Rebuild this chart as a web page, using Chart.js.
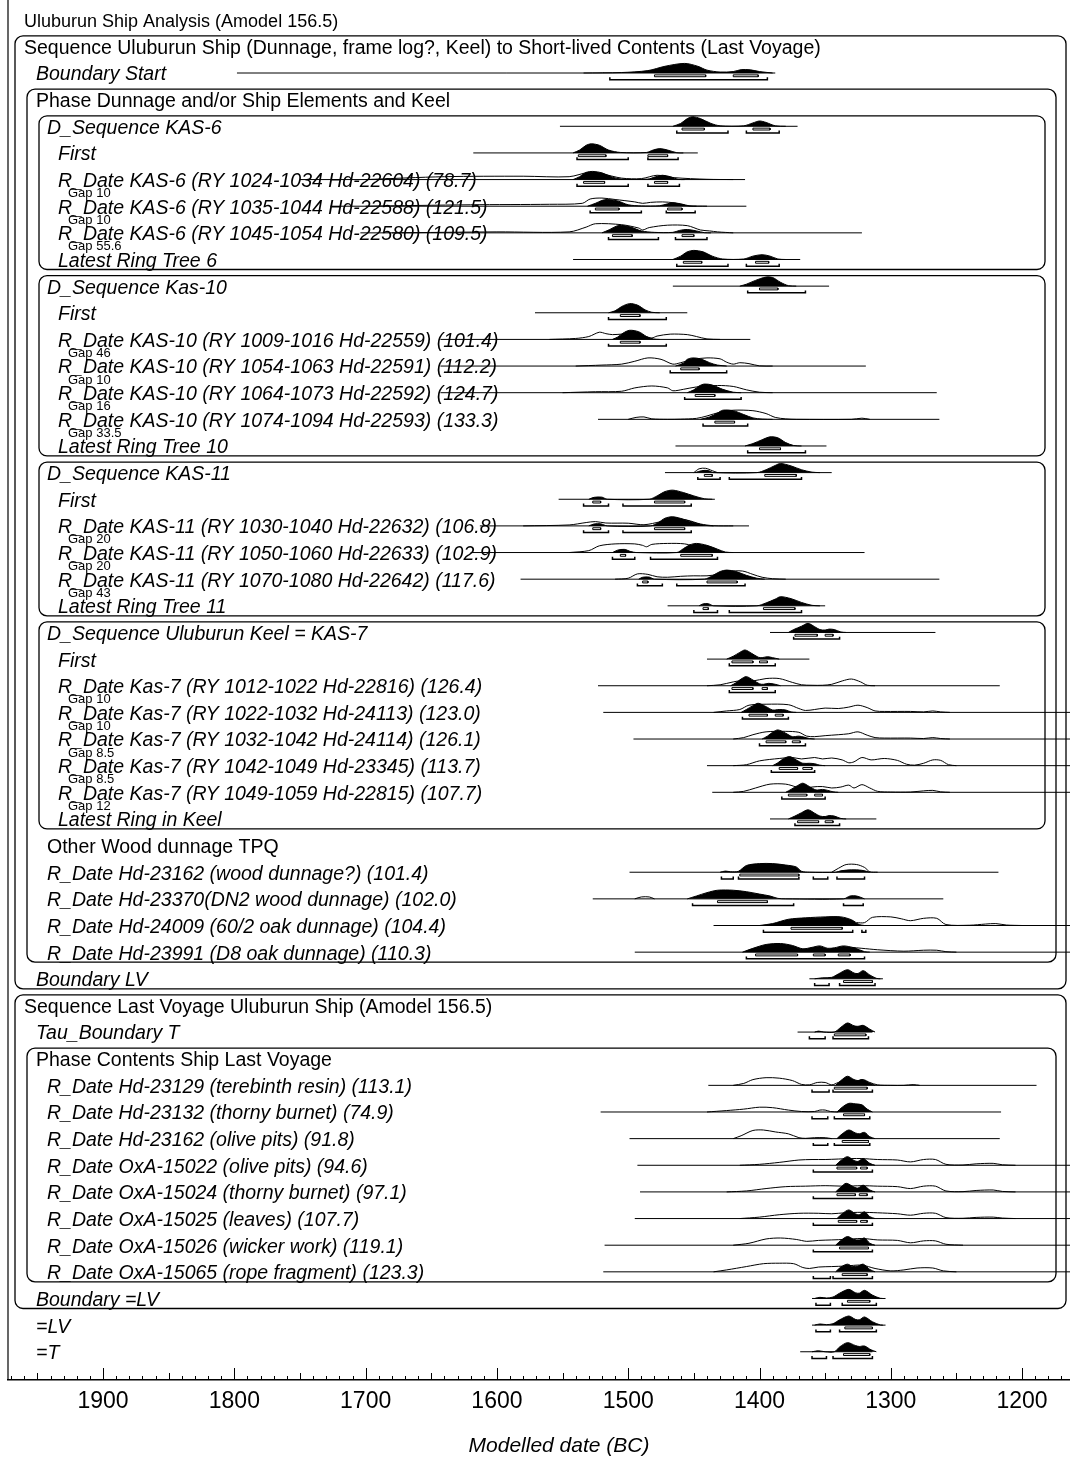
<!DOCTYPE html>
<html>
<head>
<meta charset="utf-8">
<title>Uluburun Ship Analysis</title>
<script src="https://cdn.jsdelivr.net/npm/chart.js@4.4.1/dist/chart.umd.min.js"></script>
<style>
body{margin:0;background:#fff}
canvas{display:block}
</style>
</head>
<body>
<canvas id="chart1" width="1070" height="1458"></canvas>
<script>
// row labels, top to bottom (row index = y value)
const rowNames = [
  'Uluburun Ship Analysis (Amodel 156.5)',
  'Sequence Uluburun Ship (Dunnage, frame log?, Keel) to Short-lived Contents (Last Voyage)',
  'Boundary Start',
  'Phase Dunnage and/or Ship Elements and Keel',
  'D_Sequence KAS-6',
  'First',
  'R_Date KAS-6 (RY 1024-1034 Hd-22604) (78.7)',
  'R_Date KAS-6 (RY 1035-1044 Hd-22588) (121.5)',
  'R_Date KAS-6 (RY 1045-1054 Hd-22580) (109.5)',
  'Latest Ring Tree 6',
  'D_Sequence Kas-10',
  'First',
  'R_Date KAS-10 (RY 1009-1016 Hd-22559) (101.4)',
  'R_Date KAS-10 (RY 1054-1063 Hd-22591) (112.2)',
  'R_Date KAS-10 (RY 1064-1073 Hd-22592) (124.7)',
  'R_Date KAS-10 (RY 1074-1094 Hd-22593) (133.3)',
  'Latest Ring Tree 10',
  'D_Sequence KAS-11',
  'First',
  'R_Date KAS-11 (RY 1030-1040 Hd-22632) (106.8)',
  'R_Date KAS-11 (RY 1050-1060 Hd-22633) (102.9)',
  'R_Date KAS-11 (RY 1070-1080 Hd-22642) (117.6)',
  'Latest Ring Tree 11',
  'D_Sequence Uluburun Keel = KAS-7',
  'First',
  'R_Date Kas-7 (RY 1012-1022 Hd-22816) (126.4)',
  'R_Date Kas-7 (RY 1022-1032 Hd-24113) (123.0)',
  'R_Date Kas-7 (RY 1032-1042 Hd-24114) (126.1)',
  'R_Date Kas-7 (RY 1042-1049 Hd-23345) (113.7)',
  'R_Date Kas-7 (RY 1049-1059 Hd-22815) (107.7)',
  'Latest Ring in Keel',
  'Other Wood dunnage TPQ',
  'R_Date Hd-23162 (wood dunnage?) (101.4)',
  'R_Date Hd-23370(DN2 wood dunnage) (102.0)',
  'R_Date Hd-24009 (60/2 oak dunnage) (104.4)',
  'R_Date Hd-23991 (D8 oak dunnage) (110.3)',
  'Boundary LV',
  'Sequence Last Voyage Uluburun Ship (Amodel 156.5)',
  'Tau_Boundary T',
  'Phase Contents Ship Last Voyage',
  'R_Date Hd-23129 (terebinth resin) (113.1)',
  'R_Date Hd-23132 (thorny burnet) (74.9)',
  'R_Date Hd-23162 (olive pits) (91.8)',
  'R_Date OxA-15022 (olive pits) (94.6)',
  'R_Date OxA-15024 (thorny burnet) (97.1)',
  'R_Date OxA-15025 (leaves) (107.7)',
  'R_Date OxA-15026 (wicker work) (119.1)',
  'R_Date OxA-15065 (rope fragment) (123.3)',
  'Boundary =LV',
  '=LV',
  '=T'
]
const uprightRows = [0, 1, 3, 31, 37, 39]
const rowIndent = [0,0,1,1,2,3,3,3,3,3, 2,3,3,3,3,3,3, 2,3,3,3,3,3, 2,3,3,3,3,3,3,3,
                   2,2,2,2,2, 1,0,1,1, 2,2,2,2,2,2,2,2, 1,1,1]

// [first row, last row, nesting level]
const groups = [[1,36,0],[3,35,1],[4,9,2],[10,16,2],[17,22,2],[23,30,2],[37,48,0],[39,47,1]]

const gapLabels = [[6,'Gap 10'],[7,'Gap 10'],[8,'Gap 55.6'],
  [12,'Gap 46'],[13,'Gap 10'],[14,'Gap 16'],[15,'Gap 33.5'],
  [19,'Gap 20'],[20,'Gap 20'],[21,'Gap 43'],
  [25,'Gap 10'],[26,'Gap 10'],[27,'Gap 8.5'],[28,'Gap 8.5'],[29,'Gap 12']]

const tickYears = [1900, 1800, 1700, 1600, 1500, 1400, 1300, 1200]

// extent of each row's line, years BC (old, young)
const lineSpan = {
  2:[1798,1388], 4:[1552,1371], 5:[1618,1447], 6:[1750,1411], 7:[1727,1410], 8:[1704,1322], 9:[1542,1369],
  10:[1466,1347], 11:[1571,1455], 12:[1643,1407], 13:[1643,1319], 14:[1643,1265], 15:[1523,1263], 16:[1464,1349],
  17:[1472,1345], 18:[1553,1434], 19:[1613,1408], 20:[1620,1320], 21:[1582,1263], 22:[1470,1350],
  23:[1392,1266], 24:[1440,1362], 25:[1523,1217], 26:[1519,1150], 27:[1496,1150], 28:[1440,1150], 29:[1436,1150], 30:[1392,1311],
  32:[1499,1218], 33:[1527,1260], 34:[1435,1150], 35:[1495,1150], 36:[1362,1306],
  38:[1371,1314], 40:[1439,1189], 41:[1521,1216], 42:[1499,1217], 43:[1493,1150], 44:[1491,1150],
  45:[1495,1150], 46:[1518,1150], 47:[1519,1150], 48:[1360,1306], 49:[1360,1306], 50:[1369,1314]
}

// modelled (posterior) distributions: [year BC, relative height]
const posterior = {
  2:[[1534,0],[1505,0.05],[1485,0.25],[1472,0.7],[1457,1],[1447,0.7],[1440,0.3],[1430,0.1],[1420,0.15],[1414,0.35],[1407,0.33],[1400,0.15],[1390,0]],
  4:[[1466,0],[1460,0.3],[1455,0.8],[1451,1],[1445,0.8],[1437,0.3],[1430,0.05],[1412,0.05],[1405,0.35],[1400,0.55],[1395,0.4],[1388,0.05],[1380,0]],
  5:[[1542,0],[1537,0.3],[1532,0.8],[1528,0.95],[1522,0.8],[1515,0.3],[1506,0.05],[1486,0.05],[1481,0.3],[1476,0.45],[1470,0.3],[1463,0.02],[1458,0]],
  6:[[1542,0],[1537,0.3],[1532,0.75],[1527,0.85],[1520,0.7],[1512,0.25],[1505,0.05],[1485,0.05],[1479,0.3],[1474,0.45],[1468,0.3],[1462,0.02],[1457,0]],
  7:[[1531,0],[1525,0.3],[1520,0.6],[1516,0.7],[1508,0.55],[1500,0.15],[1490,0.03],[1476,0.05],[1470,0.25],[1466,0.35],[1460,0.25],[1453,0.02],[1448,0]],
  8:[[1520,0],[1514,0.35],[1509,0.7],[1505,0.78],[1498,0.6],[1490,0.2],[1480,0.05],[1466,0.05],[1461,0.25],[1455,0.35],[1448,0.2],[1442,0.02],[1437,0]],
  9:[[1466,0],[1460,0.35],[1455,0.8],[1450,0.95],[1443,0.8],[1436,0.35],[1428,0.05],[1412,0.05],[1405,0.35],[1398,0.5],[1392,0.35],[1386,0.05],[1380,0]],
  10:[[1415,0],[1410,0.2],[1403,0.6],[1395,0.95],[1390,0.9],[1384,0.4],[1378,0.05],[1372,0]],
  11:[[1515,0],[1510,0.2],[1505,0.65],[1499,0.95],[1493,0.8],[1487,0.3],[1482,0.05],[1476,0]],
  12:[[1512,0],[1508,0.25],[1504,0.65],[1499,0.95],[1492,0.8],[1486,0.3],[1481,0.05],[1476,0]],
  13:[[1464,0],[1458,0.3],[1455,0.7],[1451,0.85],[1445,0.75],[1438,0.35],[1432,0.1],[1425,0]],
  14:[[1455,0],[1450,0.3],[1446,0.7],[1442,0.9],[1436,0.8],[1428,0.35],[1420,0.05],[1414,0]],
  15:[[1445,0],[1438,0.25],[1432,0.65],[1428,0.95],[1420,0.9],[1412,0.5],[1405,0.15],[1398,0.03],[1390,0]],
  16:[[1411,0],[1405,0.25],[1398,0.65],[1392,0.95],[1386,0.85],[1380,0.35],[1374,0.05],[1368,0]],
  17:[[1449,0],[1444,0.2],[1439,0.22],[1435,0],[1402,0],[1395,0.3],[1388,0.75],[1384,0.95],[1376,0.7],[1368,0.3],[1360,0.05],[1354,0]],
  18:[[1530,0],[1526,0.2],[1520,0.22],[1516,0],[1484,0],[1478,0.35],[1472,0.8],[1466,0.95],[1458,0.7],[1450,0.35],[1442,0.05],[1436,0]],
  19:[[1530,0],[1526,0.2],[1521,0.22],[1516,0],[1483,0],[1477,0.35],[1472,0.8],[1466,0.95],[1458,0.7],[1449,0.3],[1441,0.05],[1435,0]],
  20:[[1512,0],[1508,0.25],[1503,0.33],[1498,0.1],[1494,0],[1463,0],[1458,0.4],[1453,0.8],[1448,0.95],[1440,0.75],[1432,0.35],[1426,0.05],[1420,0]],
  21:[[1492,0],[1489,0.2],[1484,0.22],[1480,0],[1442,0],[1436,0.35],[1430,0.8],[1425,0.95],[1418,0.8],[1410,0.4],[1402,0.1],[1396,0]],
  22:[[1446,0],[1443,0.2],[1439,0.22],[1435,0],[1402,0],[1395,0.3],[1388,0.7],[1384,0.95],[1376,0.75],[1368,0.35],[1360,0.05],[1354,0]],
  23:[[1378,0],[1374,0.3],[1368,0.65],[1363,0.95],[1358,0.6],[1354,0.3],[1350,0.25],[1347,0.35],[1343,0.3],[1338,0.05],[1334,0]],
  24:[[1425,0],[1420,0.3],[1415,0.7],[1411,0.95],[1406,0.6],[1401,0.2],[1398,0.15],[1394,0.25],[1390,0.15],[1385,0]],
  25:[[1422,0],[1418,0.3],[1414,0.7],[1410,0.95],[1405,0.6],[1400,0.2],[1397,0.15],[1393,0.25],[1388,0.15],[1384,0]],
  26:[[1414,0],[1410,0.3],[1405,0.7],[1401,0.95],[1395,0.6],[1390,0.25],[1385,0.3],[1380,0.25],[1376,0.05],[1372,0]],
  27:[[1398,0],[1394,0.3],[1390,0.7],[1386,0.95],[1380,0.6],[1375,0.25],[1370,0.3],[1366,0.2],[1362,0.05],[1358,0]],
  28:[[1390,0],[1386,0.3],[1382,0.7],[1377,0.95],[1372,0.6],[1367,0.25],[1362,0.25],[1358,0.2],[1354,0.05],[1350,0]],
  29:[[1380,0],[1376,0.3],[1371,0.7],[1367,0.95],[1362,0.6],[1357,0.25],[1352,0.3],[1348,0.2],[1344,0.05],[1340,0]],
  30:[[1378,0],[1373,0.3],[1368,0.65],[1363,0.95],[1358,0.6],[1354,0.3],[1350,0.25],[1347,0.35],[1343,0.3],[1338,0.05],[1334,0]],
  32:[[1430,0],[1426,0.12],[1422,0.05],[1416,0.1],[1410,0.7],[1400,0.9],[1390,0.9],[1380,0.75],[1372,0.55],[1368,0.1],[1362,0],[1342,0],[1338,0.15],[1330,0.25],[1322,0.2],[1316,0]],
  33:[[1455,0],[1448,0.3],[1440,0.65],[1432,0.9],[1420,0.9],[1410,0.75],[1400,0.5],[1392,0.3],[1386,0.05],[1380,0],[1336,0],[1331,0.3],[1326,0.3],[1320,0]],
  34:[[1400,0],[1390,0.2],[1378,0.65],[1365,0.8],[1350,0.9],[1338,0.9],[1330,0.6],[1324,0.1],[1320,0]],
  35:[[1413,0],[1405,0.4],[1395,0.8],[1384,0.9],[1375,0.7],[1367,0.35],[1360,0.5],[1354,0.65],[1348,0.4],[1343,0.45],[1336,0.65],[1328,0.45],[1320,0.05],[1316,0]],
  36:[[1358,0],[1352,0.1],[1345,0.15],[1340,0.5],[1333,0.95],[1328,0.6],[1325,0.55],[1321,0.85],[1316,0.4],[1311,0.05],[1308,0]],
  38:[[1358,0],[1355,0.1],[1351,0],[1343,0],[1338,0.5],[1333,0.95],[1328,0.65],[1325,0.6],[1321,0.7],[1316,0.3],[1312,0]],
  40:[[1342,0],[1338,0.5],[1333,0.95],[1328,0.6],[1325,0.5],[1322,0.6],[1317,0.3],[1312,0]],
  41:[[1341,0],[1337,0.5],[1332,0.9],[1327,0.85],[1322,0.75],[1318,0.3],[1314,0]],
  42:[[1341,0],[1337,0.5],[1332,0.9],[1327,0.6],[1324,0.5],[1320,0.65],[1316,0.2],[1312,0]],
  43:[[1342,0],[1338,0.5],[1333,0.9],[1328,0.5],[1325,0.4],[1321,0.7],[1316,0.2],[1312,0]],
  44:[[1342,0],[1338,0.5],[1334,0.9],[1328,0.5],[1325,0.4],[1321,0.7],[1316,0.2],[1312,0]],
  45:[[1341,0],[1337,0.5],[1332,0.9],[1327,0.5],[1324,0.4],[1320,0.7],[1316,0.2],[1312,0]],
  46:[[1342,0],[1338,0.5],[1333,0.9],[1328,0.6],[1324,0.55],[1320,0.75],[1316,0.2],[1312,0]],
  47:[[1342,0],[1338,0.5],[1333,0.8],[1329,0.55],[1325,0.6],[1321,0.8],[1316,0.25],[1312,0]],
  48:[[1358,0],[1354,0.12],[1349,0.05],[1344,0.15],[1339,0.55],[1332,0.95],[1327,0.6],[1324,0.55],[1320,0.85],[1314,0.35],[1308,0.02],[1304,0]],
  49:[[1358,0],[1354,0.12],[1349,0.05],[1344,0.15],[1339,0.55],[1332,0.95],[1327,0.6],[1324,0.55],[1320,0.85],[1314,0.35],[1308,0.02],[1304,0]],
  50:[[1360,0],[1355,0.1],[1350,0],[1343,0],[1339,0.5],[1333,0.95],[1327,0.65],[1324,0.55],[1320,0.6],[1315,0.2],[1311,0]]
}

// unmodelled (prior) distributions, drawn as outlines
const prior = {
  6:[[1700,0],[1640,0.3],[1580,0.35],[1545,0.3],[1530,0.75],[1520,0.6],[1505,0.15],[1490,0.1],[1478,0.45],[1465,0.2],[1440,0.03],[1420,0]],
  7:[[1700,0],[1620,0.15],[1560,0.2],[1535,0.3],[1529,0.75],[1520,0.85],[1510,0.7],[1495,0.45],[1489,0.3],[1483,0.4],[1474,0.45],[1465,0.35],[1455,0.05],[1440,0]],
  8:[[1680,0],[1600,0.1],[1545,0.1],[1532,0.6],[1525,0.95],[1505,0.85],[1492,0.5],[1489,0.3],[1484,0.55],[1470,0.8],[1455,0.75],[1445,0.3],[1438,0.2],[1432,0.1],[1420,0]],
  12:[[1560,0],[1540,0.1],[1530,0.3],[1522,0.75],[1517,0.6],[1512,0.5],[1505,0.55],[1495,0.6],[1487,0.3],[1482,0.15],[1478,0.35],[1468,0.55],[1455,0.5],[1448,0.3],[1440,0.05],[1430,0]],
  13:[[1540,0],[1520,0.1],[1505,0.2],[1495,0.5],[1485,0.85],[1475,0.7],[1466,0.2],[1460,0.35],[1450,0.7],[1440,0.85],[1430,0.75],[1425,0.4],[1420,0.2],[1415,0.35],[1408,0.25],[1400,0.02],[1390,0]],
  14:[[1550,0],[1525,0.1],[1505,0.15],[1495,0.5],[1482,0.7],[1470,0.5],[1466,0.2],[1458,0.35],[1448,0.6],[1432,0.75],[1420,0.65],[1410,0.3],[1400,0.05],[1390,0]],
  15:[[1500,0],[1494,0.2],[1488,0.25],[1482,0.05],[1470,0],[1460,0.02],[1448,0.1],[1440,0.35],[1430,0.75],[1420,0.95],[1405,0.9],[1395,0.6],[1388,0.2],[1380,0.05],[1372,0],[1330,0],[1322,0.12],[1316,0]],
  17:[[1450,0],[1446,0.4],[1441,0.45],[1436,0.2],[1432,0]],
  19:[[1580,0],[1545,0.1],[1532,0.35],[1525,0.45],[1517,0.3],[1500,0.28],[1488,0.12],[1475,0.45],[1466,0.75],[1455,0.6],[1445,0.2],[1435,0.02],[1420,0]],
  20:[[1545,0],[1530,0.2],[1522,0.7],[1510,0.9],[1495,0.9],[1489,0.75],[1486,0.6],[1482,0.85],[1470,0.95],[1457,0.9],[1445,0.5],[1435,0.15],[1428,0]],
  21:[[1510,0],[1500,0.1],[1493,0.55],[1485,0.5],[1478,0.25],[1470,0.2],[1460,0.3],[1450,0.35],[1440,0.35],[1432,0.5],[1424,0.8],[1413,0.85],[1405,0.5],[1398,0.2],[1390,0.05],[1380,0]],
  25:[[1440,0],[1430,0.1],[1420,0.4],[1413,0.55],[1405,0.5],[1395,0.75],[1385,0.75],[1375,0.35],[1368,0.1],[1360,0.05],[1352,0.05],[1345,0.15],[1337,0.5],[1330,0.7],[1323,0.4],[1318,0.05],[1312,0]],
  26:[[1435,0],[1425,0.15],[1415,0.3],[1408,0.75],[1395,0.85],[1378,0.8],[1370,0.4],[1365,0.2],[1358,0.3],[1350,0.45],[1340,0.4],[1332,0.55],[1325,0.75],[1318,0.5],[1312,0.15],[1305,0.1],[1285,0.1],[1275,0.05],[1268,0.15],[1262,0.05],[1255,0]],
  27:[[1420,0],[1412,0.15],[1405,0.45],[1395,0.75],[1380,0.8],[1370,0.7],[1364,0.3],[1358,0.25],[1350,0.35],[1340,0.45],[1332,0.55],[1325,0.75],[1318,0.4],[1312,0.15],[1305,0.1],[1285,0.1],[1275,0.05],[1268,0.15],[1262,0.05],[1255,0]],
  28:[[1420,0],[1410,0.1],[1400,0.5],[1385,0.75],[1375,0.85],[1368,0.7],[1358,0.85],[1352,0.7],[1345,0.8],[1337,0.6],[1332,0.3],[1328,0.4],[1322,0.85],[1315,0.6],[1305,0.75],[1295,0.55],[1288,0.15],[1282,0.05],[1275,0.25],[1268,0.6],[1262,0.55],[1256,0.1],[1250,0]],
  29:[[1420,0],[1412,0.1],[1403,0.45],[1392,0.85],[1380,0.85],[1372,0.55],[1367,0.3],[1360,0.55],[1352,0.6],[1345,0.45],[1338,0.55],[1332,0.75],[1328,0.45],[1322,0.8],[1316,0.45],[1310,0.1],[1300,0.03],[1285,0.03],[1275,0.15],[1268,0.2],[1262,0.05],[1255,0]],
  32:[[1345,0],[1340,0.4],[1334,0.8],[1326,0.8],[1320,0.5],[1316,0.05],[1310,0]],
  33:[[1495,0],[1490,0.2],[1484,0.2],[1480,0]],
  34:[[1326,0.3],[1320,0.3],[1314,0.85],[1300,0.9],[1292,0.7],[1285,0.5],[1275,0.75],[1265,0.75],[1258,0.1],[1240,0.03],[1228,0.15],[1220,0.2],[1212,0.05],[1200,0]],
  35:[[1330,0.5],[1322,0.4],[1310,0.25],[1290,0.1],[1275,0.2],[1265,0.2],[1258,0.05],[1250,0]],
  40:[[1420,0],[1412,0.2],[1405,0.6],[1395,0.8],[1385,0.75],[1375,0.5],[1368,0.1],[1362,0.05],[1356,0.3],[1350,0.3],[1345,0.05],[1340,0.3],[1334,0.55],[1327,0.4],[1321,0.6],[1316,0.3],[1310,0.05],[1300,0],[1290,0],[1283,0.08],[1278,0]],
  41:[[1440,0],[1425,0.15],[1412,0.3],[1400,0.5],[1390,0.45],[1378,0.2],[1368,0.05],[1358,0.05],[1354,0.2],[1350,0.2],[1346,0.05],[1340,0]],
  42:[[1420,0],[1414,0.3],[1405,0.85],[1397,0.9],[1388,0.7],[1378,0.5],[1370,0.1],[1365,0.03],[1358,0.1],[1350,0.1],[1345,0]],
  43:[[1415,0],[1400,0.1],[1385,0.3],[1370,0.55],[1360,0.6],[1350,0.6],[1340,0.65],[1330,0.7],[1322,0.7],[1310,0.6],[1295,0.55],[1285,0.35],[1275,0.6],[1266,0.6],[1258,0.1],[1245,0.03],[1235,0.15],[1222,0.2],[1215,0.05],[1205,0]],
  44:[[1425,0],[1410,0.1],[1395,0.35],[1380,0.55],[1365,0.6],[1350,0.65],[1335,0.6],[1322,0.65],[1310,0.6],[1295,0.55],[1285,0.35],[1275,0.6],[1266,0.6],[1258,0.1],[1245,0.03],[1235,0.15],[1222,0.2],[1215,0.05],[1205,0]],
  45:[[1415,0],[1400,0.15],[1385,0.4],[1370,0.55],[1355,0.55],[1345,0.5],[1335,0.6],[1322,0.65],[1310,0.6],[1295,0.5],[1285,0.35],[1275,0.55],[1266,0.55],[1258,0.1],[1245,0.03],[1235,0.12],[1222,0.15],[1215,0.05],[1205,0]],
  46:[[1420,0],[1408,0.2],[1395,0.65],[1384,0.75],[1372,0.6],[1364,0.4],[1355,0.5],[1345,0.55],[1335,0.6],[1322,0.7],[1310,0.55],[1295,0.5],[1285,0.25],[1275,0.45],[1266,0.45],[1258,0.1],[1245,0]],
  47:[[1435,0],[1425,0.2],[1410,0.55],[1397,0.85],[1385,0.9],[1374,0.85],[1367,0.45],[1362,0.35],[1355,0.5],[1345,0.55],[1335,0.6],[1322,0.7],[1312,0.35],[1300,0.1],[1290,0.2],[1280,0.4],[1268,0.4],[1260,0.1],[1250,0]]
}

// highest posterior density ranges, years BC
const range68 = {
  2:[[1480,1441],[1420,1401]], 4:[[1459,1442],[1405,1392]], 5:[[1538,1517],[1485,1470]],
  6:[[1534,1518],[1480,1470]], 7:[[1525,1507],[1470,1459]], 8:[[1512,1497],[1459,1450]],
  9:[[1458,1444],[1403,1393]], 10:[[1400,1386]], 11:[[1506,1491]], 12:[[1506,1491]],
  13:[[1460,1446]], 14:[[1449,1434]], 15:[[1434,1419]], 16:[[1400,1384]],
  17:[[1442,1436],[1396,1372]], 18:[[1527,1521],[1480,1457]], 19:[[1527,1521],[1480,1457]],
  20:[[1506,1502],[1460,1436]], 21:[[1489,1485],[1440,1417]], 22:[[1443,1439],[1397,1373]],
  23:[[1373,1356],[1350,1344]], 24:[[1421,1405],[1400,1394]], 25:[[1421,1405],[1398,1394]],
  26:[[1408,1394],[1388,1382]], 27:[[1395,1380],[1375,1369]], 28:[[1385,1371],[1367,1360]],
  29:[[1378,1364],[1358,1352]], 30:[[1371,1355],[1350,1344]],
  32:[[1415,1370]], 33:[[1432,1394]], 34:[[1376,1337]], 35:[[1403,1371],[1359,1350],[1340,1331]],
  36:[[1336,1314]], 38:[[1343,1319]], 40:[[1343,1318]], 41:[[1336,1320]], 42:[[1337,1317]],
  43:[[1341,1326],[1323,1318]], 44:[[1341,1327],[1324,1318]], 45:[[1340,1326],[1323,1318]],
  46:[[1339,1317]], 47:[[1337,1318]], 48:[[1333,1316]], 49:[[1335,1314]], 50:[[1336,1316]]
}
const range95 = {
  2:[[1514,1394]], 4:[[1463,1424],[1410,1385]], 5:[[1539,1500],[1485,1462]],
  6:[[1539,1500],[1485,1461]], 7:[[1529,1490],[1471,1449]], 8:[[1515,1477],[1464,1440]],
  9:[[1463,1424],[1410,1385]], 10:[[1409,1365]], 11:[[1515,1471]], 12:[[1515,1471]],
  13:[[1468,1425]], 14:[[1457,1414]], 15:[[1443,1409]], 16:[[1409,1365]],
  17:[[1447,1430],[1423,1368]], 18:[[1534,1515],[1504,1452]], 19:[[1534,1515],[1504,1452]],
  20:[[1512,1495],[1483,1432]], 21:[[1493,1474],[1463,1411]], 22:[[1450,1432],[1423,1368]],
  23:[[1374,1339]], 24:[[1423,1388]], 25:[[1423,1388]], 26:[[1413,1378]], 27:[[1400,1365]],
  28:[[1391,1358]], 29:[[1383,1350]], 30:[[1373,1339]],
  32:[[1429,1420],[1416,1370],[1359,1348],[1341,1320]], 33:[[1451,1374],[1336,1321]],
  34:[[1397,1329],[1322,1319]], 35:[[1410,1320]], 36:[[1358,1347],[1339,1312]],
  38:[[1362,1350],[1344,1317]], 40:[[1360,1347],[1344,1314]], 41:[[1360,1348],[1343,1316]],
  42:[[1359,1348],[1343,1316]], 43:[[1359,1314]], 44:[[1359,1314]], 45:[[1359,1314]],
  46:[[1359,1314]], 47:[[1359,1346],[1344,1314]], 48:[[1357,1346],[1337,1311]],
  49:[[1357,1346],[1339,1311]], 50:[[1360,1349],[1344,1314]]
}

const PEAK = 0.36          // distribution height, in rows
const FONT = '"Liberation Sans", Arial, sans-serif'

function seg(points, width){
  return {
    data: points.map(p => ({x: p[0], y: p[1]})),
    showLine: true, borderColor: '#000', borderWidth: width,
    pointRadius: 0, fill: false, tension: 0
  }
}

function armarDatasets(){
  const ds = []
  for (const key in lineSpan){
    const r = Number(key)
    if (posterior[r]){
      ds.push({
        data: posterior[r].map(p => ({x: p[0], y: r - p[1] * PEAK})),
        showLine: true, borderColor: '#000', borderWidth: 1,
        backgroundColor: '#000', fill: {value: r},
        pointRadius: 0, tension: 0.3
      })
    }
    if (prior[r]){
      const d = seg(prior[r].map(p => [p[0], r - p[1] * PEAK]), 1)
      d.tension = 0.3
      ds.push(d)
    }
    const span = lineSpan[r]
    ds.push(seg([[span[0], r], [span[1], r]], 1))
    for (const b of (range68[r] || [])){
      ds.push(seg([[b[0], r + 0.07], [b[1], r + 0.07], [b[1], r + 0.14], [b[0], r + 0.14], [b[0], r + 0.07]], 1))
    }
    for (const b of (range95[r] || [])){
      ds.push(seg([[b[0], r + 0.16], [b[0], r + 0.25], [b[1], r + 0.25], [b[1], r + 0.16]], 1.5))
    }
  }
  return ds
}

const oxcalPlugin = {
  id: 'oxcal',
  beforeDatasetsDraw(chart){
    const {ctx, chartArea, scales} = chart
    const y = scales.y
    ctx.save()
    ctx.fillStyle = '#000'
    ctx.strokeStyle = '#000'
    // row labels
    ctx.textBaseline = 'middle'
    const indentX = [24, 36, 47, 58]
    rowNames.forEach((name, i) => {
      const italic = !uprightRows.includes(i)
      const size = i === 0 ? 18 : 19.5
      ctx.font = (italic ? 'italic ' : '') + size + 'px ' + FONT
      ctx.fillText(name, indentX[rowIndent[i]], y.getPixelForValue(i) + 2)
    })
    ctx.font = '13px ' + FONT
    gapLabels.forEach(g => {
      ctx.fillText(g[1], 68, y.getPixelForValue(g[0]) + 14)
    })
    // group boxes
    const boxLeft = [15, 27, 39]
    const boxRight = [4, 14, 25]
    ctx.lineWidth = 1.3
    groups.forEach(g => {
      const top = y.getPixelForValue(g[0]) - 10.5
      const bottom = y.getPixelForValue(g[1]) + 10
      const left = boxLeft[g[2]]
      const right = chartArea.right - boxRight[g[2]]
      ctx.beginPath()
      ctx.roundRect(left, top, right - left, bottom - top, 8)
      ctx.stroke()
    })
    // left frame
    ctx.lineWidth = 1.2
    ctx.beginPath()
    ctx.moveTo(chartArea.left, 0)
    ctx.lineTo(chartArea.left, chartArea.bottom)
    ctx.stroke()
    ctx.restore()
  },
  afterDraw(chart){
    const {ctx, chartArea, scales} = chart
    const x = scales.x
    ctx.save()
    ctx.strokeStyle = '#000'
    ctx.lineWidth = 1
    for (let v = 1170; v <= 1970; v += 10){
      const px = Math.round(x.getPixelForValue(v)) + 0.5
      const len = v % 100 === 0 ? 12 : (v % 50 === 0 ? 7 : 4)
      ctx.beginPath()
      ctx.moveTo(px, chartArea.bottom)
      ctx.lineTo(px, chartArea.bottom - len)
      ctx.stroke()
    }
    ctx.fillStyle = '#000'
    ctx.font = 'italic 21px ' + FONT
    ctx.textAlign = 'center'
    ctx.textBaseline = 'middle'
    ctx.fillText('Modelled date (BC)', 559, 1446)
    ctx.restore()
  }
}

function iniciarGrafico(){
  Chart.defaults.color = '#000'
  new Chart(document.getElementById('chart1'), {
    type: 'scatter',
    data: {datasets: armarDatasets()},
    options: {
      responsive: false,
      animation: false,
      events: [],
      layout: {padding: {left: 8, top: 8, right: 0, bottom: 0}},
      plugins: {legend: {display: false}, tooltip: {enabled: false}},
      scales: {
        x: {
          type: 'linear', min: 1163.5, max: 1972.4, reverse: true,
          grid: {display: false},
          border: {display: true, color: '#000', width: 1.5},
          afterBuildTicks: s => { s.ticks = tickYears.map(v => ({value: v})) },
          afterFit: s => { s.height = 78 },
          ticks: {
            autoSkip: false, maxRotation: 0, padding: 0,
            font: {family: FONT, size: 23},
            callback: v => String(v)
          }
        },
        y: {
          type: 'linear', min: -0.44, max: 51.06, reverse: true, display: false
        }
      }
    },
    plugins: [oxcalPlugin]
  })
}

iniciarGrafico()
</script>
</body>
</html>
